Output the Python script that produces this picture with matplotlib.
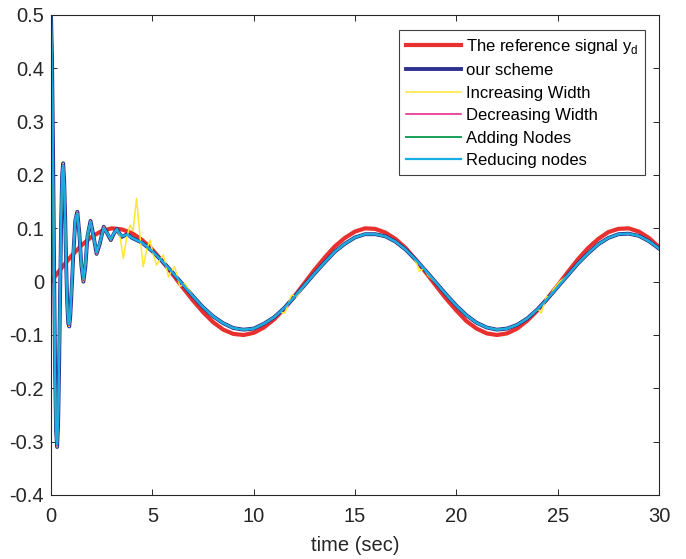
import numpy as np
import matplotlib
matplotlib.use('Agg')
import matplotlib.pyplot as plt

plt.rcParams['font.family'] = ['Liberation Sans', 'DejaVu Sans']
plt.rcParams['axes.unicode_minus'] = False
plt.rcParams['mathtext.fontset'] = 'custom'
plt.rcParams['mathtext.rm'] = 'Liberation Sans'

# 参考信号 y_d（每 0.5 s 读一个点）
t_ref = np.arange(0, 30.01, 0.5)
y_ref = [0, .025, .048, .068, .084, .095, .100, .098, .091, .078, .060, .038, .014,
         -.011, -.035, -.057, -.076, -.090, -.098, -.100, -.096, -.086, -.071, -.051,
         -.028, -.003, .022, .045, .066, .082, .094, .100, .099, .092, .080, .063,
         .041, .017, -.008, -.032, -.054, -.074, -.088, -.097, -.100, -.097, -.088,
         -.073, -.054, -.031, -.007, .018, .042, .063, .080, .093, .099, .100, .094,
         .082, .065]

# 过渡段时间点
t_tr = [0, 0.05, 0.1, 0.15, 0.2, 0.25, 0.3, 0.35, 0.4, 0.45,
        0.5, 0.55, 0.6, 0.65, 0.7, 0.75, 0.8, 0.85, 0.9, 0.95,
        1.0, 1.1, 1.2, 1.3, 1.4, 1.5, 1.6, 1.7, 1.8, 1.95,
        2.1, 2.25, 2.4, 2.6, 2.78, 2.95, 3.1, 3.25, 3.38, 3.5,
        3.65, 3.78]
ours_tr = [0.5, 0.42, 0.25, 0.04, -0.16, -0.28, -0.31, -0.27, -0.16, -0.02,
           0.11, 0.2, 0.222, 0.19, 0.12, 0.03, -0.04, -0.078, -0.084, -0.065,
           -0.03, 0.05, 0.115, 0.131, 0.09, 0.03, 0.0, 0.03, 0.085, 0.114,
           0.085, 0.052, 0.07, 0.103, 0.09, 0.078, 0.09, 0.099, 0.09, 0.084,
           0.087, 0.089]
dec_tr = [0.5, 0.41, 0.24, 0.03, -0.165, -0.285, -0.308, -0.265, -0.155, -0.015,
          0.115, 0.2, 0.22, 0.188, 0.118, 0.028, -0.041, -0.077, -0.082, -0.063,
          -0.028, 0.052, 0.116, 0.13, 0.089, 0.031, 0.002, 0.032, 0.086, 0.113,
          0.084, 0.053, 0.071, 0.102, 0.09, 0.079, 0.09, 0.098, 0.09, 0.084,
          0.087, 0.088]
add_tr = [0.5, 0.35, 0.15, -0.05, -0.2, -0.29, -0.3, -0.25, -0.13, 0.0,
          0.12, 0.19, 0.21, 0.18, 0.11, 0.02, -0.04, -0.07, -0.075, -0.055,
          -0.02, 0.055, 0.11, 0.125, 0.09, 0.035, 0.008, 0.035, 0.085, 0.11,
          0.085, 0.058, 0.072, 0.1, 0.091, 0.08, 0.09, 0.097, 0.09, 0.085,
          0.087, 0.088]
red_tr = [0.5, 0.4, 0.22, 0.02, -0.17, -0.29, -0.305, -0.26, -0.15, -0.01,
          0.12, 0.205, 0.218, 0.185, 0.115, 0.025, -0.042, -0.075, -0.08, -0.06,
          -0.025, 0.055, 0.118, 0.128, 0.088, 0.032, 0.005, 0.035, 0.088, 0.112,
          0.083, 0.055, 0.072, 0.1, 0.09, 0.08, 0.091, 0.098, 0.09, 0.085,
          0.087, 0.088]

# 稳态跟踪段（四条曲线几乎重合）
t_late = np.arange(4.0, 30.01, 0.5)
y_late = [0.082, 0.073, 0.057, 0.038, 0.017, -0.005, -0.027, -0.048, -0.065, -0.078,
          -0.087, -0.090, -0.088, -0.079, -0.067, -0.050, -0.029, -0.007, 0.015, 0.036,
          0.056, 0.071, 0.083, 0.089, 0.089, 0.085, 0.075, 0.060, 0.041, 0.020,
          -0.002, -0.024, -0.045, -0.063, -0.077, -0.086, -0.090, -0.088, -0.081, -0.069,
          -0.052, -0.032, -0.010, 0.012, 0.034, 0.053, 0.070, 0.082, 0.089, 0.090,
          0.086, 0.076, 0.062]

# Increasing Width：过渡段之后有额外振荡
t_inc2 = [3.4, 3.57, 3.72, 3.9, 4.05, 4.22, 4.38, 4.55, 4.72, 4.88, 5.05, 5.21, 5.38,
          5.54, 5.67, 5.79, 5.95, 6.1, 6.23, 6.36, 6.6, 7.0,
          7.5, 8.0, 8.5, 9.0, 9.5, 10.0, 10.5, 11.0, 11.3, 11.54, 11.7, 11.87, 12.1,
          12.28, 12.5, 13.0, 13.5, 14.0, 14.5, 15.0, 15.5, 16.0, 16.5, 17.0, 17.5,
          17.9, 18.05, 18.17, 18.42, 18.6, 19.0, 19.5, 20.0, 20.5, 21.0, 21.5, 22.0,
          22.5, 23.0, 23.5, 23.9, 24.05, 24.19, 24.44, 24.6, 24.8, 25.1, 25.5, 26.0,
          26.5, 27.0, 27.5, 28.0, 28.5, 29.0, 29.5, 30.0]
y_inc2 = [0.085, 0.044, 0.08, 0.106, 0.095, 0.156, 0.09, 0.028, 0.06, 0.078, 0.05, 0.031, 0.042,
          0.05, 0.03, 0.009, 0.02, 0.028, 0.01, -0.009, -0.003, -0.027,
          -0.048, -0.065, -0.078, -0.087, -0.090, -0.088, -0.079, -0.067, -0.057, -0.059, -0.042, -0.025, -0.028,
          -0.019, -0.007, 0.015, 0.036, 0.056, 0.071, 0.083, 0.089, 0.089, 0.085, 0.075, 0.060,
          0.045, 0.034, 0.019, 0.025, 0.012, -0.002, -0.024, -0.045, -0.063, -0.077, -0.086, -0.090,
          -0.088, -0.081, -0.069, -0.055, -0.052, -0.059, -0.028, -0.028, -0.014, 0.0, 0.012, 0.034,
          0.053, 0.070, 0.082, 0.089, 0.090, 0.086, 0.076, 0.062]

yticks = [-0.4, -0.3, -0.2, -0.1, 0, 0.1, 0.2, 0.3, 0.4, 0.5]
ytick_labels = ['-0.4', '-0.3', '-0.2', '-0.1', '0', '0.1', '0.2', '0.3', '0.4', '0.5']
xticks = [0, 5, 10, 15, 20, 25, 30]

fig = plt.figure(figsize=(6.86, 5.59), dpi=100)
ax = fig.add_axes([51 / 686, 64 / 559, 608 / 686, 480 / 559])

ax.plot(t_ref, y_ref, color='#E8302E', lw=3.0, label=r'The reference signal y$_\mathregular{d}$')
ax.plot(t_tr + list(t_late), ours_tr + y_late, color='#2E3192', lw=2.8, label='our scheme')
ax.plot(t_tr[:38] + t_inc2, ours_tr[:38] + y_inc2, color='#FFE632', lw=1.1, label='Increasing Width')
ax.plot(t_tr + list(t_late), dec_tr + y_late, color='#E6197E', lw=1.1, label='Decreasing Width')
ax.plot(t_tr + list(t_late), add_tr + y_late, color='#1B9E5A', lw=1.4, label='Adding Nodes')
ax.plot(t_tr + list(t_late), red_tr + y_late, color='#1AADE4', lw=1.6, label='Reducing nodes')

ax.set_xlim(0, 30)
ax.set_ylim(-0.4, 0.5)
ax.set_xticks(xticks)
ax.set_yticks(yticks)
ax.set_yticklabels(ytick_labels)
ax.tick_params(direction='in', top=True, right=True, length=4, width=0.7,
               labelsize=14.5, colors='#262626')
ax.tick_params(axis='x', pad=9)
ax.tick_params(axis='y', pad=5)
for s in ax.spines.values():
    s.set_color('#262626')
    s.set_linewidth(0.8)
ax.set_xlabel('time (sec)', fontsize=14.5, color='#262626', labelpad=7)

leg = ax.legend(loc='upper right', bbox_to_anchor=(594 / 608, 465 / 480), borderaxespad=0,
                fontsize=12, handlelength=3.3, labelspacing=0.45, handletextpad=0.3,
                fancybox=False, framealpha=1, edgecolor='#404040', borderpad=0.4)
leg.get_frame().set_linewidth(0.8)

fig.savefig('out.png', dpi=100)
